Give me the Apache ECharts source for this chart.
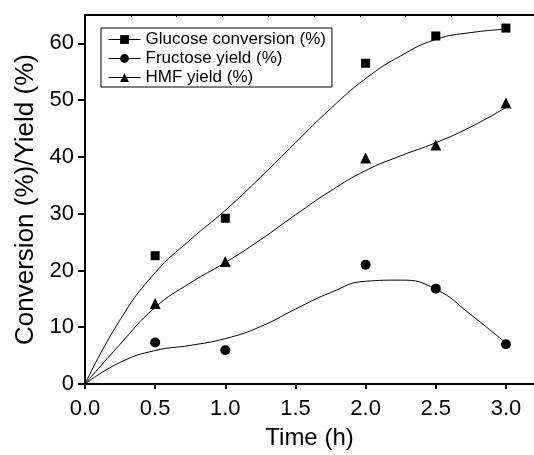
<!DOCTYPE html>
<html>
<head>
<meta charset="utf-8">
<script src="https://cdn.jsdelivr.net/npm/echarts@6/dist/echarts.min.js"></script>
<style>html,body{margin:0;padding:0;background:#fff}#c{width:534px;height:455px}</style>
</head>
<body>
<div id="c"></div>
<script>
// Measured points
var times = [0.5, 1.0, 2.0, 2.5, 3.0];
var glucose = [22.6, 29.2, 56.5, 61.3, 62.7];
var fructose = [7.3, 5.95, 21.0, 16.8, 7.0];
var hmf = [14.2, 21.6, 39.8, 42.1, 49.5];

// Fitted curves
var fitTimes = [0, 0.25, 0.5, 0.75, 1.0, 1.25, 1.5, 1.75, 2.0, 2.25, 2.5, 2.75, 3.0];
var glucoseFit = [0, 11.3, 19.6, 25.4, 30.6, 36.4, 42.5, 48.5, 53.8, 57.8, 60.7, 61.9, 62.5];
var fructoseFit = [0, 3.8, 5.9, 6.8, 8.0, 10.1, 13.2, 16.1, 18.1, 18.3, 16.7, 12.2, 7.2];
var hmfFit = [0, 7.0, 13.5, 17.8, 21.4, 25.4, 29.8, 34.0, 37.6, 40.2, 42.5, 45.3, 48.7];

var xTicks = ['0.0', '0.5', '1.0', '1.5', '2.0', '2.5', '3.0'];
var names = ['Glucose conversion (%)', 'Fructose yield (%)', 'HMF yield (%)'];
var symbols = ['rect', 'circle', 'triangle'];
var symSizes = [9, 10, 11];

function pairs(xs, ys) { return xs.map(function (x, i) { return [x, ys[i]]; }); }

var FONT = 'Liberation Sans, Arial, sans-serif';
var fits = [glucoseFit, fructoseFit, hmfFit];
var pts = [glucose, fructose, hmf];
var series = [];
for (var i = 0; i < 3; i++) {
  series.push({
    name: names[i], type: 'line', smooth: 0.5, showSymbol: false,
    symbol: symbols[i], symbolSize: symSizes[i],
    lineStyle: { color: '#000', width: 1 }, itemStyle: { color: '#000' },
    data: pairs(fitTimes, fits[i]), silent: true, z: 2
  });
}
for (var j = 0; j < 3; j++) {
  series.push({
    name: names[j], type: 'scatter', symbol: symbols[j], symbolSize: symSizes[j],
    itemStyle: { color: '#000', opacity: 1 }, data: pairs(times, pts[j]), z: 3
  });
}

var chart = echarts.init(document.getElementById('c'), null, { renderer: 'canvas' });
chart.setOption({
  animation: false,
  backgroundColor: '#fff',
  textStyle: { fontFamily: FONT },
  grid: { left: 85, top: 15, right: 0, bottom: 65 },
  legend: {
    data: names, orient: 'vertical', left: 101, top: 28,
    padding: [3, 6, 1, 7], itemGap: 2, itemWidth: 32, itemHeight: 11,
    borderColor: '#000', borderWidth: 1, backgroundColor: '#fff',
    textStyle: { fontFamily: FONT, fontSize: 17, color: '#000', lineHeight: 17 },
    lineStyle: { color: '#000', width: 1 }, itemStyle: { color: '#000' }
  },
  xAxis: [{
    type: 'value', min: 0, max: 3.2, interval: 0.5, position: 'bottom',
    name: 'Time (h)', nameLocation: 'middle', nameGap: 42,
    nameTextStyle: { fontFamily: FONT, fontSize: 24, color: '#000' },
    axisLine: { show: true, onZero: false, lineStyle: { color: '#000', width: 2 } },
    axisTick: { show: true, length: 5, lineStyle: { color: '#000', width: 2 } },
    axisLabel: { fontFamily: FONT, fontSize: 22, color: '#000', margin: 14,
      formatter: function (v) { var k = Math.round(v / 0.5); return (Math.abs(v - k * 0.5) < 1e-6 && xTicks[k]) ? xTicks[k] : ''; },
      showMaxLabel: false },
    splitLine: { show: false }
  }, {
    type: 'value', min: 0, max: 9.8, interval: 1, position: 'top',
    axisLine: { show: true, onZero: false, lineStyle: { color: '#000', width: 2 } },
    axisTick: { show: true, inside: true, length: 2, lineStyle: { color: '#000', width: 1 } },
    axisLabel: { show: false }, splitLine: { show: false }
  }],
  yAxis: {
    type: 'value', min: 0, max: 65, interval: 10,
    name: 'Conversion (%)/Yield (%)', nameLocation: 'middle', nameGap: 40,
    nameTextStyle: { fontFamily: FONT, fontSize: 26, color: '#000' },
    axisLine: { show: true, onZero: false, lineStyle: { color: '#000', width: 2 } },
    axisTick: { show: true, length: 7, lineStyle: { color: '#000', width: 2 } },
    axisLabel: { fontFamily: FONT, fontSize: 22, color: '#000', margin: 11, showMaxLabel: false },
    splitLine: { show: false }
  },
  series: series
});
</script>
</body>
</html>
